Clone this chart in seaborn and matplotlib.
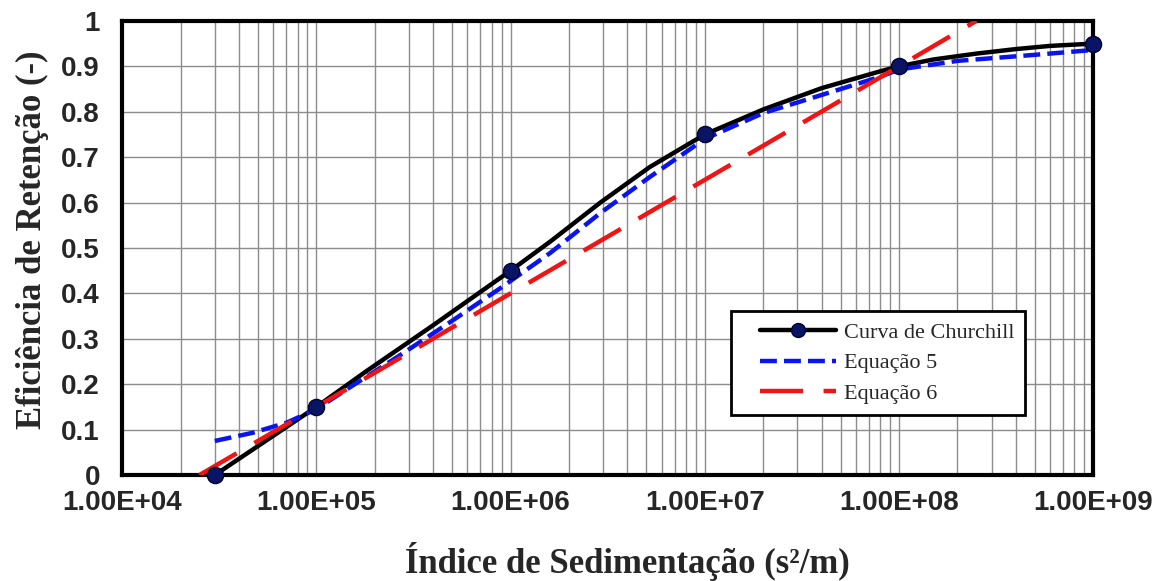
import numpy as np
import pandas as pd
import matplotlib
matplotlib.use("Agg")
import matplotlib.pyplot as plt
import seaborn as sns
from matplotlib.lines import Line2D
from matplotlib.legend_handler import HandlerLine2D
from matplotlib.ticker import LogLocator, FixedLocator, NullFormatter, FuncFormatter

# Curva de Churchill (pontos marcados)
churchill_x = [3e4, 1e5, 1e6, 1e7, 1e8, 1e9]
churchill_y = [0.0, 0.15, 0.45, 0.75, 0.90, 0.95]

# Traçado suavizado da curva de Churchill
churchill_line_x = [3e4, 1e5, 1.8e5, 4e5, 1e6, 1.6e6, 2.9e6, 5.2e6, 1e7, 2e7, 4e7, 8e7,
                    1e8, 1.5e8, 2.5e8, 4e8, 6e8, 1e9]
churchill_line_y = [0.0, 0.15, 0.228, 0.33, 0.45, 0.514, 0.600, 0.678, 0.75, 0.805,
                    0.852, 0.889, 0.90, 0.915, 0.928, 0.938, 0.945, 0.95]

# Equação 5
eq5_x = [3e4, 4.7e4, 7e4, 1e5, 1.5e5, 2.7e5, 4.9e5, 8.9e5, 1.6e6, 2.9e6, 5.2e6, 1e7,
         2e7, 4e7, 8e7, 1e8, 2e8, 4.9e8, 1e9]
eq5_y = [0.075, 0.093, 0.115, 0.145, 0.194, 0.264, 0.337, 0.412, 0.489, 0.577, 0.656, 0.740,
         0.797, 0.837, 0.877, 0.893, 0.912, 0.925, 0.936]

# Equação 6
eq6_x = [2.5e4, 1e5, 1e6, 1e7, 1e8, 2.5e8]
eq6_y = [0.0, 0.15, 0.40, 0.65, 0.90, 1.0]

BLUE = "#0a14f0"
RED = "#f01414"
NAVY = "#0a1464"
EQ5_DASH = (0, (3.8, 1.6))
EQ6_DASH = (0, (9.7, 4.6))


class OffsetLineHandler(HandlerLine2D):
    # linha da legenda começa um pouco mais à direita (como no original)
    def get_xdata(self, legend, xdescent, ydescent, width, height, fontsize):
        start = -xdescent + 0.8 * fontsize
        end = -xdescent + width
        return [start, end], [0.5 * (start + end)]


sns.set_style("white")

fig = plt.figure(figsize=(11.63, 5.81), dpi=100)
ax = fig.add_axes([0.105, 0.1824, 0.835, 0.7816])
ax.set_xscale("log")

ax.grid(True, which="both", axis="x", color="#8c8c8c", lw=1.0)
ax.grid(True, which="major", axis="y", color="#8c8c8c", lw=1.0)
ax.set_axisbelow(True)

sns.lineplot(x=churchill_line_x, y=churchill_line_y, ax=ax, color="black", lw=3.2,
             sort=False, estimator=None, zorder=3)
sns.lineplot(x=eq5_x, y=eq5_y, ax=ax, color=BLUE, lw=3.2, sort=False, estimator=None,
             zorder=4, linestyle=EQ5_DASH)
sns.lineplot(x=eq6_x, y=eq6_y, ax=ax, color=RED, lw=3.2, sort=False, estimator=None,
             zorder=5, linestyle=EQ6_DASH)
sns.scatterplot(x=churchill_x, y=churchill_y, ax=ax, color=NAVY, edgecolor="#000030",
                s=135, lw=1, zorder=6, clip_on=False)

ax.set_xlim(1e4, 1e9)
ax.set_ylim(0, 1)
ax.xaxis.set_major_locator(LogLocator(base=10, numticks=10))
ax.xaxis.set_minor_locator(LogLocator(base=10, subs=np.arange(2, 10), numticks=100))
ax.xaxis.set_minor_formatter(NullFormatter())
ax.xaxis.set_major_formatter(FuncFormatter(lambda v, p: f"{v:.2E}"))
ax.yaxis.set_major_locator(FixedLocator(np.round(np.arange(0, 1.01, 0.1), 1)))
ax.yaxis.set_major_formatter(FuncFormatter(lambda v, p: "0" if v == 0 else ("1" if v == 1 else f"{v:.1f}")))

ax.tick_params(axis="both", which="major", direction="out", length=6, width=1, color="#8c8c8c",
               labelsize=20)
ax.tick_params(axis="y", pad=10)
ax.tick_params(axis="x", pad=5)
ax.tick_params(axis="x", which="minor", length=0)
for lab in ax.get_xticklabels() + ax.get_yticklabels():
    lab.set_fontfamily("Liberation Sans")
    lab.set_fontweight("bold")

for sp in ax.spines.values():
    sp.set_visible(True)
    sp.set_color("black")
    sp.set_linewidth(3)

ax.set_xlabel("Índice de Sedimentação (s²/m)", fontsize=25, fontweight="bold",
              family="Liberation Serif")
ax.set_ylabel("Eficiência de Retenção (-)", fontsize=25, fontweight="bold",
              family="Liberation Serif")
ax.xaxis.set_label_coords(0.52, -0.148, transform=ax.transAxes)
ax.xaxis.label.set_va("top")
ax.yaxis.set_label_coords(-0.075, 0.518, transform=ax.transAxes)

handles = [
    Line2D([], [], color="black", lw=3.2, marker="o", markersize=10,
           markerfacecolor=NAVY, markeredgecolor="#000030"),
    Line2D([], [], color=BLUE, lw=3.2, linestyle=EQ5_DASH),
    Line2D([], [], color=RED, lw=3.2, linestyle=EQ6_DASH),
]
leg = ax.legend(handles, ["Curva de Churchill", "Equação 5", "Equação 6"],
                loc="lower right", bbox_to_anchor=(0.930, 0.132),
                prop={"family": "Liberation Serif", "size": 16},
                frameon=True, fancybox=False, framealpha=1, edgecolor="black",
                handlelength=4.2, handletextpad=0.35, borderpad=0.5, labelspacing=0.45,
                borderaxespad=0, handler_map={Line2D: OffsetLineHandler()})
leg.get_frame().set_linewidth(2)

fig.savefig("out.png", dpi=100)
